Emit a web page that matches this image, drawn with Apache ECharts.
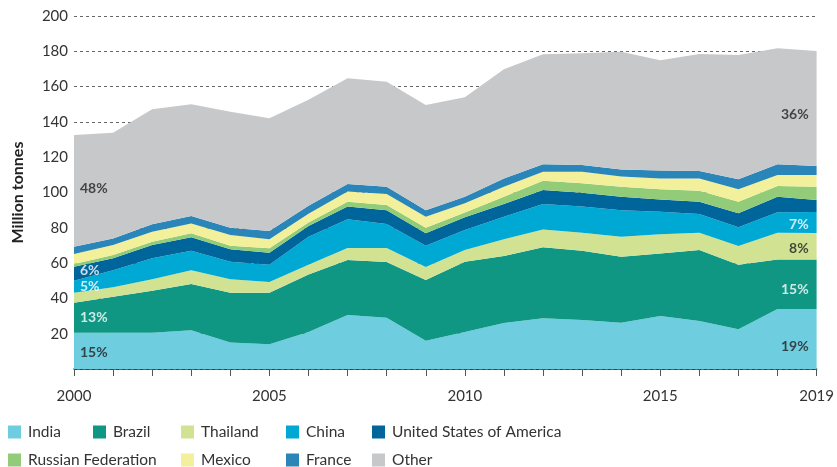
<!DOCTYPE html>
<html>
<head>
<meta charset="utf-8">
<script src="https://cdn.jsdelivr.net/npm/echarts@6/dist/echarts.min.js"></script>
<style>
  html, body { margin: 0; padding: 0; background: #fff; }
  #main { width: 837px; height: 467px; }
</style>
</head>
<body>
<div id="main"></div>
<script>
// years on the x axis
var years = ['2000','2001','2002','2003','2004','2005','2006','2007','2008','2009',
             '2010','2011','2012','2013','2014','2015','2016','2017','2018','2019'];

// million tonnes per country
var india    = [20.5, 20.5, 20.5, 22, 15, 14, 21, 30.6, 29, 16, 21, 26, 28.7, 27.8, 26.2, 30, 27.2, 22.5, 34, 34];
var brazil   = [17, 20.5, 23.9, 26.2, 28.2, 29.2, 32.5, 31.2, 31.6, 34.4, 39.8, 38, 40.3, 39.2, 37.4, 35.5, 40.2, 36.5, 28.1, 28];
var thailand = [5.7, 5.3, 6.4, 7.8, 7.6, 6.1, 5.5, 6.7, 7.9, 7.4, 6.6, 9.5, 10.1, 10.2, 11.4, 10.8, 9.8, 10.7, 15.1, 15];
var china    = [6.8, 9.7, 11.9, 11, 10, 9.7, 16, 16.3, 13.7, 12.1, 11.4, 12.8, 14.4, 14.8, 15, 12.8, 10.6, 10.6, 11.6, 12];
var usa      = [8, 6.7, 7.6, 7.6, 7, 6.9, 6, 7.2, 7.8, 7, 7.2, 7.2, 7.9, 7.9, 7.6, 7, 7, 7.9, 8.8, 6.8];
var russia   = [1.5, 1.9, 1.8, 2.3, 2.1, 2.5, 2, 2.8, 2.9, 3.1, 2.6, 4.1, 5.3, 5.3, 5.7, 5.7, 6.2, 6.6, 6.1, 7.5];
var mexico   = [5.7, 5.7, 5.7, 5.6, 6, 5.1, 5, 5.7, 6.3, 6.3, 5.3, 5.7, 5.1, 6.6, 5.7, 6.2, 7, 7, 6.2, 6.6];
var france   = [4.1, 3.7, 4.2, 4.2, 4.1, 4.7, 4.5, 4.3, 4.1, 3.7, 3.7, 4.7, 4.2, 3.8, 4.1, 4.4, 4.2, 5.7, 6.1, 5.1];
var other    = [63.3, 59.9, 65.1, 63.3, 65.8, 63.8, 60, 59.9, 59.5, 59.6, 56.3, 61.8, 62.3, 63.3, 66.7, 62.6, 66.3, 70.4, 65.7, 65.2];

var names = ['India','Brazil','Thailand','China','United States of America',
             'Russian Federation','Mexico','France','Other'];
var values = [india, brazil, thailand, china, usa, russia, mexico, france, other];

// share labels at first and last year: [year index, y position in tonnes]
var shareLeftAt   = [[0, 102.5], [0, 56], [0, 46.5], [0, 29], [0, 9.6]];
var shareLeftText = ['48%', '6%', '5%', '13%', '15%'];
var shareRightAt   = [[19, 144], [19, 82], [19, 68.5], [19, 45], [19, 12.5]];
var shareRightText = ['36%', '7%', '8%', '15%', '19%'];

var colors = ['#6fcde0','#0f9784','#d2e293','#00a9d4','#00659a',
              '#93cc78','#f3f09b','#2a85b9','#c7c8ca'];
var leftTextColor  = ['#222','#fff','#fff','#fff','#222'];
var rightTextColor = ['#222','#fff','#222','#fff','#222'];

var FONT = 'Lato, "Noto Sans", sans-serif';

var chart = echarts.init(document.getElementById('main'), null, { renderer: 'canvas' });

var series = names.map(function (n, i) {
  return {
    name: n,
    type: 'line',
    stack: 'total',
    symbol: 'none',
    lineStyle: { width: 0 },
    areaStyle: { color: colors[i], opacity: 1 },
    itemStyle: { color: colors[i] },
    data: values[i]
  };
});

function labelSeries(points, texts, textColors, side) {
  return {
    type: 'scatter',
    symbolSize: 0,
    silent: true,
    z: 10,
    data: points.map(function (p, i) {
      return {
        value: p,
        label: {
          show: true,
          position: side,
          distance: side === 'right' ? 6 : 8,
          formatter: texts[i],
          color: textColors[i],
          fontFamily: FONT,
          fontWeight: 'bold',
          fontSize: 14
        }
      };
    })
  };
}
series.push(labelSeries(shareLeftAt, shareLeftText, leftTextColor, 'right'));
series.push(labelSeries(shareRightAt, shareRightText, rightTextColor, 'left'));

// legend spots (two rows)
var legendSpots = [[8,424],[93,424],[181,424],[286,424],[372,424],
                   [8,452],[181,452],[286,452],[372,452]];
var legends = names.map(function (n, i) {
  return {
    data: [n],
    left: legendSpots[i][0],
    top: legendSpots[i][1],
    icon: 'rect',
    itemWidth: 13,
    itemHeight: 13,
    selectedMode: false,
    padding: 0,
    textStyle: { fontFamily: FONT, fontSize: 15.5, color: '#333', padding: [0, 0, 0, 2] }
  };
});

var option = {
  animation: false,
  backgroundColor: '#fff',
  color: colors,
  grid: { left: 74, right: 18, top: 16, bottom: 98 },
  legend: legends,
  xAxis: {
    type: 'category',
    data: years,
    boundaryGap: false,
    axisLine: { lineStyle: { color: '#333', width: 1.5 } },
    axisTick: { show: true, interval: 0, length: 7, lineStyle: { color: '#555' } },
    axisLabel: {
      interval: 0,
      margin: 20,
      fontFamily: FONT,
      fontSize: 15,
      color: '#333',
      formatter: function (v, idx) {
        return (idx % 5 === 0 || idx === years.length - 1) ? v : '';
      }
    },
    splitLine: { show: false }
  },
  yAxis: {
    type: 'value',
    min: 0,
    max: 200,
    interval: 20,
    name: 'Million tonnes',
    nameLocation: 'middle',
    nameGap: 48,
    nameTextStyle: { fontFamily: FONT, fontSize: 16, fontWeight: 'bold', color: '#222' },
    axisLine: { show: false },
    axisTick: { show: false },
    axisLabel: {
      margin: 6,
      fontFamily: FONT,
      fontSize: 15,
      color: '#333',
      formatter: function (v) { return v === 0 ? '' : v; }
    },
    splitLine: { lineStyle: { color: '#666', type: [3, 3], width: 1 } }
  },
  series: series
};

chart.setOption(option);
</script>
</body>
</html>
